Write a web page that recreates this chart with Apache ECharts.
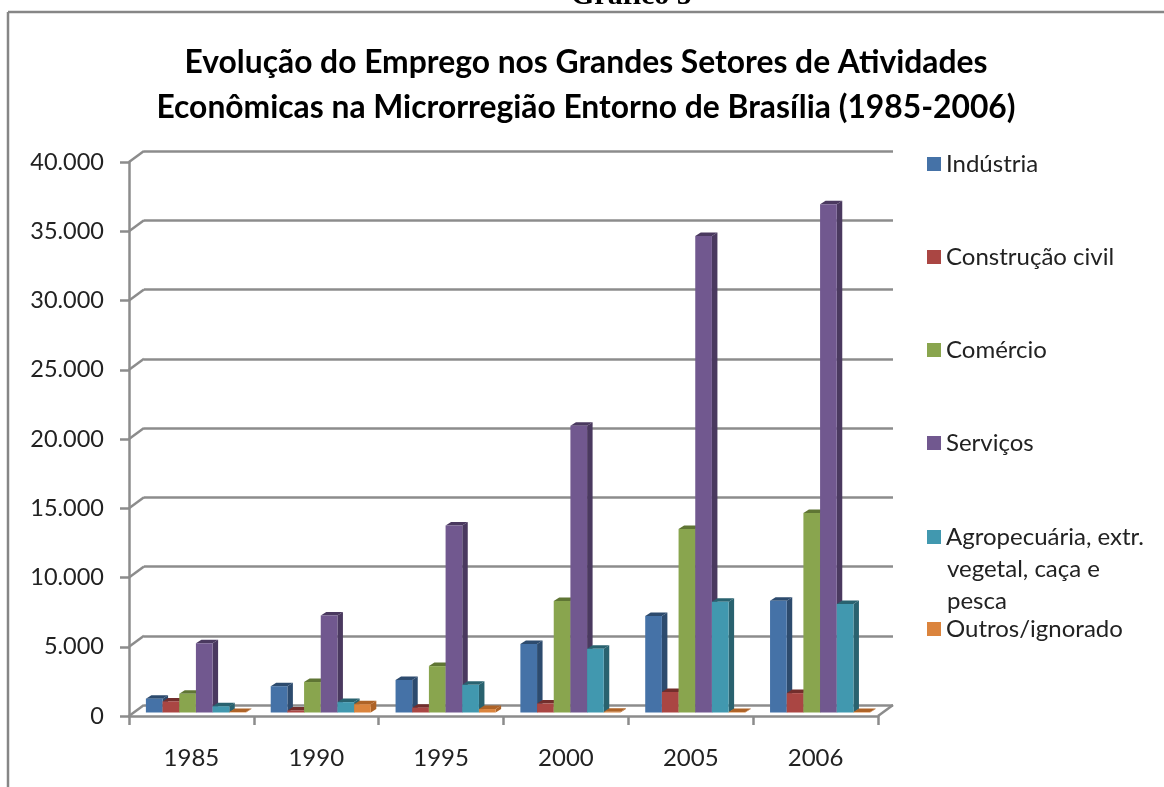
<!DOCTYPE html>
<html>
  <head>
    <title></title>
    <meta charset="UTF-8" />
    <style>
      html, body { margin: 0; padding: 0; background: #fff; overflow: hidden; }
    </style>
    <script src="https://cdn.jsdelivr.net/npm/echarts@6/dist/echarts.min.js"></script>
  </head>
  <body>
    <div id="main"></div>
    <script>
      const width = 1164;
      const height = 787;
      const main = document.getElementById('main');
      main.style.width = `${width}px`;
      main.style.height = `${height}px`;

      const years = ['1985', '1990', '1995', '2000', '2005', '2006'];
      const industria = [1000, 1900, 2350, 4950, 6970, 8070];
      const construcao = [800, 150, 350, 650, 1480, 1400];
      const comercio = [1350, 2200, 3350, 8050, 13250, 14400];
      const servicos = [5000, 7000, 13500, 20700, 34400, 36700];
      const agropecuaria = [450, 750, 2000, 4600, 8000, 7830];
      const outros = [30, 600, 250, 50, 40, 40];
      const yTicks = [0, 5000, 10000, 15000, 20000, 25000, 30000, 35000, 40000];

      const seriesList = [
        { name: 'Indústria', values: industria, front: '#4572a7', dark: '#2d4b6e' },
        { name: 'Construção civil', values: construcao, front: '#aa4643', dark: '#732e2c' },
        { name: 'Comércio', values: comercio, front: '#89a54e', dark: '#5f7534' },
        { name: 'Serviços', values: servicos, front: '#71588f', dark: '#4a395f' },
        { name: 'Agropecuária, extr. vegetal, caça e pesca', values: agropecuaria, front: '#4198af', dark: '#29626f' },
        { name: 'Outros/ignorado', values: outros, front: '#db843d', dark: '#ae6327' },
      ];
      const legendTops = [164, 257, 350, 443, 537, 629];

      const FONT = 'Lato';
      const AXIS_COLOR = '#8c8c8c';
      const AXIS_WIDTH = 2.5;
      // depth of the fake 3d box, in px
      const WALL_DX = 15;
      const WALL_DY = -11;
      const BAR_DX = 5.5;
      const BAR_DY = -3.5;
      const FLOOR_DY = -3.5;
      const BAR_SHARE = 0.1336;

      const renderBar = (s) => (params, api) => {
        const i = api.value(0);
        const top = api.coord([i, api.value(1)]);
        const bw = api.size([1, 0])[0] * BAR_SHARE;
        const x = top[0] + 4.5 + (s - 3) * bw;
        const y = top[1] + FLOOR_DY;
        const y0 = api.coord([i, 0])[1] + FLOOR_DY;
        const c = seriesList[s];
        return {
          type: 'group',
          children: [
            {
              type: 'polygon',
              shape: { points: [[x + bw, y], [x + bw + BAR_DX, y + BAR_DY], [x + bw + BAR_DX, y0 + BAR_DY], [x + bw, y0]] },
              style: { fill: c.dark },
            },
            {
              type: 'polygon',
              shape: { points: [[x, y], [x + BAR_DX, y + BAR_DY], [x + bw + BAR_DX, y + BAR_DY], [x + bw, y]] },
              style: { fill: c.dark },
            },
            {
              type: 'rect',
              shape: { x: x, y: y, width: bw, height: y0 - y },
              style: { fill: c.front },
            },
          ],
        };
      };

      // diagonals between the front axis and the back wall
      const renderWallEdge = (params, api) => {
        const v = api.value(0);
        const p = api.coord([0, v]);
        const cs = params.coordSys;
        const lineStyle = { stroke: AXIS_COLOR, lineWidth: AXIS_WIDTH, fill: null };
        const children = [
          {
            type: 'line',
            shape: { x1: cs.x, y1: p[1], x2: cs.x + WALL_DX, y2: p[1] + WALL_DY },
            style: lineStyle,
          },
        ];
        if (v === 0) {
          children.push({
            type: 'line',
            shape: { x1: cs.x + cs.width, y1: p[1], x2: cs.x + cs.width + WALL_DX, y2: p[1] + WALL_DY },
            style: lineStyle,
          });
        }
        return { type: 'group', children: children };
      };

      const myChart = echarts.init(main);
      const option = {
        animation: false,
        backgroundColor: '#fff',
        title: {
          text: 'Evolução do Emprego nos Grandes Setores de Atividades\nEconômicas na Microrregião Entorno de Brasília (1985-2006)',
          left: 581,
          top: 35,
          textAlign: 'center',
          textStyle: { fontFamily: FONT, fontSize: 31.8, fontWeight: 'bold', color: '#000', lineHeight: 45 },
        },
        grid: [
          { left: 129, top: 162, width: 749, height: 554 },
          { left: 144, top: 151, width: 749, height: 554 },
        ],
        xAxis: [
          {
            type: 'category',
            gridIndex: 0,
            data: years,
            axisLine: { lineStyle: { color: AXIS_COLOR, width: AXIS_WIDTH } },
            axisTick: { show: true, length: 9, lineStyle: { color: AXIS_COLOR, width: AXIS_WIDTH } },
            axisLabel: { fontFamily: FONT, fontSize: 24, color: '#222', margin: 30 },
          },
          { type: 'category', gridIndex: 1, data: years, show: false },
        ],
        yAxis: [
          {
            type: 'value',
            gridIndex: 0,
            min: 0,
            max: 40000,
            interval: 5000,
            axisLine: { show: true, lineStyle: { color: AXIS_COLOR, width: AXIS_WIDTH } },
            axisTick: { show: true, length: 9, lineStyle: { color: AXIS_COLOR, width: AXIS_WIDTH } },
            splitLine: { show: false },
            axisLabel: {
              fontFamily: FONT,
              fontSize: 23.5,
              color: '#222',
              margin: 25,
              formatter: (v) => String(v).replace(/\B(?=(\d{3})+$)/g, '.'),
            },
          },
          {
            type: 'value',
            gridIndex: 1,
            min: 0,
            max: 40000,
            interval: 5000,
            axisLine: { show: false },
            axisTick: { show: false },
            axisLabel: { show: false },
            splitLine: { show: true, lineStyle: { color: AXIS_COLOR, width: AXIS_WIDTH } },
          },
        ],
        legend: seriesList.map((c, s) => ({
          data: [c.name],
          left: 927,
          top: legendTops[s] - 12,
          padding: 0,
          icon: 'rect',
          itemWidth: 14,
          itemHeight: 14,
          selectedMode: false,
          formatter: (name) => name.split(' vegetal')[0],
          textStyle: { fontFamily: FONT, fontSize: 24, color: '#222' },
        })),
        series: [
          {
            type: 'custom',
            silent: true,
            xAxisIndex: 0,
            yAxisIndex: 0,
            data: yTicks.map((v) => [v]),
            encode: { y: 0 },
            renderItem: renderWallEdge,
            z: 1,
          },
          ...seriesList.map((c, s) => ({
            name: c.name,
            type: 'custom',
            xAxisIndex: 0,
            yAxisIndex: 0,
            itemStyle: { color: c.front },
            data: c.values.map((v, i) => [i, v]),
            encode: { x: 0, y: 1 },
            renderItem: renderBar(s),
            z: 3,
          })),
        ],
        graphic: [
          // outer frame, it runs off the right and bottom of the picture
          { type: 'line', shape: { x1: 8, y1: 12, x2: 1164, y2: 12 }, style: { stroke: '#868686', lineWidth: 2.5 } },
          { type: 'line', shape: { x1: 8, y1: 12, x2: 8, y2: 787 }, style: { stroke: '#868686', lineWidth: 2.5 } },
          {
            type: 'text',
            x: 571,
            y: 11,
            style: { text: 'Gráfico 5', fontFamily: 'Liberation Serif', fontSize: 30, fontWeight: 'bold', fill: '#000', verticalAlign: 'bottom' },
          },
          {
            type: 'text',
            x: 947,
            y: 553,
            style: { text: 'vegetal, caça e\npesca', fontFamily: FONT, fontSize: 24, lineHeight: 32, fill: '#222' },
          },
        ],
      };
      myChart.setOption(option);
    </script>
  </body>
</html>
